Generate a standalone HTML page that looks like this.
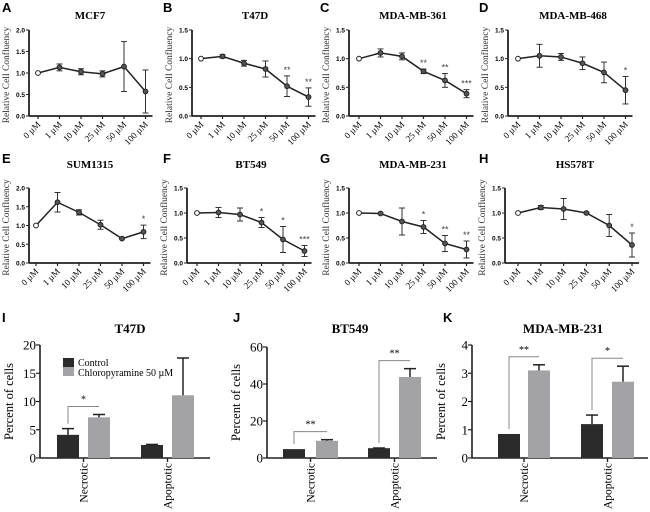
<!DOCTYPE html>
<html><head><meta charset="utf-8">
<style>
body{margin:0;background:#fff;}
svg{display:block;}
.ser{font-family:"Liberation Serif",serif;}
.san{font-family:"Liberation Sans",sans-serif;}
</style></head>
<body>
<svg id="fig" width="650" height="512" viewBox="0 0 650 512" xmlns="http://www.w3.org/2000/svg"></svg>
<script>
const doseLabels = ["0 µM","1 µM","10 µM","25 µM","50 µM","100 µM"];
const titlesLine = ["MCF7","T47D","MDA-MB-361","MDA-MB-468","SUM1315","BT549","MDA-MB-231","HS578T"];
const lettersLine = ["A","B","C","D","E","F","G","H"];
const valA=[1,1.13,1.03,0.98,1.15,0.57], errA=[0,0.08,0.07,0.07,0.58,0.5], starA=["","","","","",""];
const valB=[1,1.04,0.92,0.82,0.52,0.33], errB=[0,0.03,0.05,0.14,0.18,0.16], starB=["","","","","**","**"];
const valC=[1,1.1,1.04,0.78,0.62,0.39], errC=[0,0.07,0.06,0.04,0.12,0.07], starC=["","","","**","**","***"];
const valD=[1,1.05,1.03,0.92,0.76,0.45], errD=[0,0.2,0.06,0.11,0.18,0.24], starD=["","","","","","*"];
const valE=[1,1.62,1.35,1.02,0.65,0.83], errE=[0,0.26,0.07,0.12,0.01,0.18], starE=["","","","","","*"];
const valF=[1,1.01,0.97,0.81,0.47,0.24], errF=[0,0.1,0.13,0.1,0.26,0.11], starF=["","","","*","*","***"];
const valG=[1,0.99,0.83,0.72,0.39,0.27], errG=[0,0.01,0.27,0.13,0.16,0.17], starG=["","","","*","**","**"];
const valH=[1,1.11,1.08,1.0,0.75,0.36], errH=[0,0.04,0.21,0.01,0.22,0.24], starH=["","","","","","*"];
const ymaxLine=[2,1.5,1.5,1.5,2,1.5,1.5,1.5];
const ticks2=["0.0","0.5","1.0","1.5","2.0"], ticks15=["0.0","0.5","1.0","1.5"];

const barCats=["Necrotic","Apoptotic"];
const titlesBar=["T47D","BT549","MDA-MB-231"];
const lettersBar=["I","J","K"];
const ctrlI=[4.1,2.3], ctrlErrI=[1.1,0.1], chlI=[7.2,11.1], chlErrI=[0.5,6.6], sigI=["*",""];
const ctrlJ=[4.8,5.3], ctrlErrJ=[0,0.1], chlJ=[9.3,43.8], chlErrJ=[0.6,4.5], sigJ=["**","**"];
const ctrlK=[0.85,1.2], ctrlErrK=[0,0.32], chlK=[3.1,2.7], chlErrK=[0.2,0.55], sigK=["**","*"];
const ticksI=[0,5,10,15,20], ticksJ=[0,20,40,60], ticksK=[0,1,2,3,4];

const S=document.getElementById('fig');
const NS="http://www.w3.org/2000/svg";
function mk(tag,at,txt){const e=document.createElementNS(NS,tag);for(const k in at)e.setAttribute(k,at[k]);if(txt!==undefined)e.textContent=txt;S.appendChild(e);return e;}

const linePanels=[
 {ax:29,px0:38,yT:30,yB:116,tx:90,ty:19,lx:2,ly:12},
 {ax:192,px0:201,yT:30,yB:116,tx:255,ty:19,lx:163,ly:12},
 {ax:349,px0:359,yT:30,yB:116,tx:413,ty:19,lx:320,ly:12},
 {ax:508,px0:518,yT:30,yB:116,tx:573,ty:19,lx:479,ly:12},
 {ax:29,px0:36,yT:188,yB:263,tx:90,ty:168,lx:2,ly:163},
 {ax:187,px0:197,yT:188,yB:263,tx:251,ty:168,lx:163,ly:163},
 {ax:349,px0:359,yT:188,yB:263,tx:413,ty:168,lx:320,ly:163},
 {ax:505,px0:518,yT:188,yB:263,tx:575,ty:168,lx:479,ly:163}];
const vals=[valA,valB,valC,valD,valE,valF,valG,valH];
const errs=[errA,errB,errC,errD,errE,errF,errG,errH];
const stars=[starA,starB,starC,starD,starE,starF,starG,starH];

linePanels.forEach((p,i)=>{
 const ymax=ymaxLine[i];
 const st=(i==7)?22.8:21.5;
 const X=j=>p.px0+j*st;
 const Y=v=>p.yB-(v/ymax)*(p.yB-p.yT);
 const L=mk('text',{x:p.lx,y:p.ly,class:'san','font-size':13,'font-weight':'bold'},lettersLine[i]);
 
 
 const T=mk('text',{x:p.tx,y:p.ty,class:'ser','font-size':11,'font-weight':'bold','text-anchor':'middle'},titlesLine[i]);
 
 
 const yt=mk('text',{x:0,y:0,class:'ser','font-size':9.5,fill:'#333','text-anchor':'middle',transform:`translate(${p.ax-20},${(p.yT+p.yB)/2+2}) rotate(-90)`},"Relative Cell Confluency");
 
 
 const tk=ymax==2?ticks2:ticks15;
 tk.forEach(t=>{const y=Y(parseFloat(t));
  mk('line',{x1:p.ax-3,x2:p.ax,y1:y,y2:y,stroke:'#222','stroke-width':1});
  const e=mk('text',{x:p.ax-4,y:y+2.5,class:'san','font-size':6.5,'font-weight':'bold','text-anchor':'end'},t);
  
  });
 const ya=mk('line',{x1:p.ax,x2:p.ax,y1:p.yT,y2:p.yB,stroke:'#222','stroke-width':1.8});
 
 
 const xa=mk('line',{x1:p.ax,x2:X(5)+7,y1:p.yB,y2:p.yB,stroke:'#222','stroke-width':1.8});
 
 
 doseLabels.forEach((d,j)=>{
  mk('line',{x1:X(j),x2:X(j),y1:p.yB,y2:p.yB+3,stroke:'#222','stroke-width':1.2});
  const e=mk('text',{x:0,y:0,class:'ser','font-size':9,'text-anchor':'end',transform:`translate(${X(j)+3},${p.yB+9}) rotate(-45)`},d);
  
  });
 const v=vals[i], er=errs[i];
 const pl=mk('polyline',{points:v.map((a,j)=>X(j)+','+Y(a)).join(' '),fill:'none',stroke:'#222','stroke-width':1.5});
 
 
 v.forEach((a,j)=>{
  if(er[j]>0){
   mk('line',{x1:X(j),x2:X(j),y1:Y(a+er[j]),y2:Y(Math.max(0,a-er[j])),stroke:'#333','stroke-width':1});
   mk('line',{x1:X(j)-3,x2:X(j)+3,y1:Y(a+er[j]),y2:Y(a+er[j]),stroke:'#333','stroke-width':1});
   mk('line',{x1:X(j)-3,x2:X(j)+3,y1:Y(Math.max(0,a-er[j])),y2:Y(Math.max(0,a-er[j])),stroke:'#333','stroke-width':1});}
  const c=mk('circle',{cx:X(j),cy:Y(a),r:2.4,fill:j==0?'#fff':'#555',stroke:'#222','stroke-width':1});
  
  
  if(stars[i][j]){const s=mk('text',{x:X(j),y:Y(a+er[j])-3,class:'san','font-size':9,'text-anchor':'middle',fill:'#444'},stars[i][j]);
   
   }
 });
});

const barPanels=[
 {ax:40,end:210,yT:345,yB:458,ymax:20,ticks:ticksI,bars:[[57,88],[141,172]],tx:130,lx:2},
 {ax:267,end:437,yT:347,yB:458,ymax:60,ticks:ticksJ,bars:[[283,316],[368,399]],tx:350,lx:233},
 {ax:472,end:648,yT:345,yB:458,ymax:4,ticks:ticksK,bars:[[498,528],[581,612]],tx:563,lx:443}];
const ctrls=[ctrlI,ctrlJ,ctrlK], ctrlErrs=[ctrlErrI,ctrlErrJ,ctrlErrK], chls=[chlI,chlJ,chlK], chlErrs=[chlErrI,chlErrJ,chlErrK], sigs=[sigI,sigJ,sigK];
const BW=22;
barPanels.forEach((p,i)=>{
 const Y=v=>p.yB-(v/p.ymax)*(p.yB-p.yT);
 const L=mk('text',{x:p.lx,y:322,class:'san','font-size':13,'font-weight':'bold'},lettersBar[i]);
 
 
 const T=mk('text',{x:p.tx,y:333,class:'ser','font-size':13,'font-weight':'bold','text-anchor':'middle'},titlesBar[i]);
 
 
 const yt=mk('text',{x:0,y:0,class:'ser','font-size':12.5,'text-anchor':'middle',transform:`translate(${p.ax-27},${(p.yT+p.yB)/2}) rotate(-90)`},"Percent of cells");
 
 
 p.ticks.forEach(t=>{const y=Y(t);
  mk('line',{x1:p.ax-4,x2:p.ax,y1:y,y2:y,stroke:'#222','stroke-width':1.2});
  const e=mk('text',{x:p.ax-4,y:y+4.5,class:'ser','font-size':13,'text-anchor':'end'},String(t));
  
  });
 const ya=mk('line',{x1:p.ax,x2:p.ax,y1:p.yT,y2:p.yB,stroke:'#222','stroke-width':1.6});
 
 
 const xa=mk('line',{x1:p.ax,x2:p.end,y1:p.yB,y2:p.yB,stroke:'#222','stroke-width':1.6});
 
 
 barCats.forEach((c,j)=>{
  const [x1,x2]=p.bars[j];
  const cx=(x1+BW+x2)/2;
  mk('line',{x1:cx,x2:cx,y1:p.yB,y2:p.yB+4,stroke:'#222','stroke-width':1.4});
  const e=mk('text',{x:0,y:0,class:'ser','font-size':11.5,'text-anchor':'end',transform:`translate(${cx+4},${p.yB+5}) rotate(-90)`},c);
  
  
  const cv=ctrls[i][j], ce=ctrlErrs[i][j], gv=chls[i][j], ge=chlErrs[i][j];
  const r1=mk('rect',{x:x1,y:Y(cv),width:BW,height:p.yB-Y(cv),fill:'#2b2b2b'});
  
  
  const r2=mk('rect',{x:x2,y:Y(gv),width:BW,height:p.yB-Y(gv),fill:'#a3a3a5'});
  
  
  [[x1,cv,ce],[x2,gv,ge]].forEach(([bx,v,e])=>{ if(e>0){
   const m=bx+BW/2;
   mk('line',{x1:m,x2:m,y1:Y(v),y2:Y(v+e),stroke:'#222','stroke-width':1.5});
   mk('line',{x1:m-6,x2:m+6,y1:Y(v+e),y2:Y(v+e),stroke:'#222','stroke-width':1.5});}});
  if(sigs[i][j]){
   const top=Math.max(cv+ce,gv+ge);
   const by=Y(top)-8, ly=Y(cv+ce)-5;
   const a=x1+BW/2, b=x2+BW/2;
   mk('polyline',{points:`${a},${ly} ${a},${by} ${b},${by}`,fill:'none',stroke:'#888','stroke-width':1});
   const s=mk('text',{x:(a+b)/2,y:by-4,class:'ser','font-size':10,'text-anchor':'middle'},sigs[i][j]);
   
   }
 });
});
const l1=mk('rect',{x:63,y:358,width:11,height:9,fill:'#2b2b2b'});


const l2=mk('rect',{x:63,y:367,width:11,height:9,fill:'#a3a3a5'});


const t1=mk('text',{x:78,y:366,class:'ser','font-size':10},"Control");


const t2=mk('text',{x:78,y:376,class:'ser','font-size':10},"Chloropyramine 50 µM");


</script>
</body></html>
